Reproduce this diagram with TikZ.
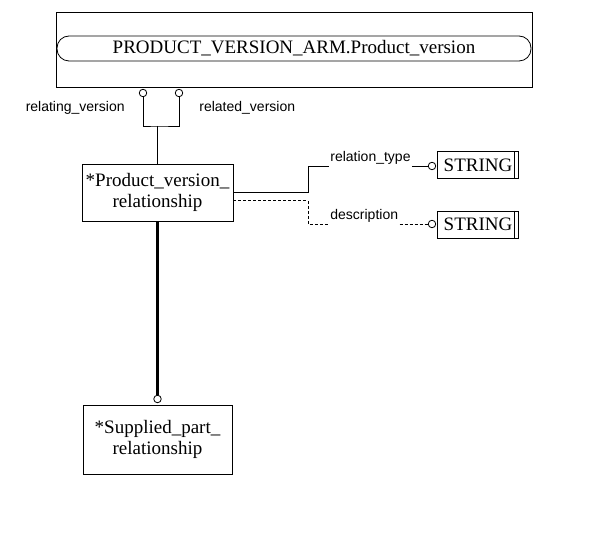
\documentclass[tikz,border=0pt]{standalone}
\usepackage{fontspec}
\setmainfont{Liberation Serif}
\newfontfamily\lblfont{Liberation Sans}
\begin{document}
\begin{tikzpicture}[x=1pt,y=-1pt,line width=0.8pt]
		\tikzset{
			ent/.style = {draw, inner sep=0pt, align=center, font=\fontsize{19}{21}\selectfont},
			lbl/.style = {inner sep=1pt, font=\lblfont\fontsize{14}{16}\selectfont},
			dot/.style = {draw, circle, fill=white, inner sep=0pt, minimum size=7.5},
			dsh/.style = {dash pattern=on 3pt off 2pt},
			strbox/.pic = {
					\node[ent, minimum width=81, minimum height=27] (-b) {STRING};
					\draw ([xshift=-5]-b.north east) -- ([xshift=-5]-b.south east);
				}}

		\useasboundingbox (0,0) rectangle (600,553);

		% schema box
		\node[draw, minimum width=476, minimum height=75, inner sep=0pt] (outer) at (294,49.5) {};
		\node[ent, rounded corners=12, minimum width=474, minimum height=25] (pv) at (294,48.5) {PRODUCT\_VERSION\_ARM.Product\_version};

		% entities
		\node[ent, minimum width=151, minimum height=57] (pvr) at (157.5,192.5) {*Product\_version\_\\relationship};
		\node[ent, minimum width=149, minimum height=69] (spr) at (157.5,439.5) {*Supplied\_part\_\\relationship};
		\pic (s1) at (478,165) {strbox};
		\pic (s2) at (478,224.5) {strbox};

		% attribute ends
		\node[dot] (c1) at (143,93) {};
		\node[dot] (c2) at (179,93) {};
		\node[dot] (c3) at (432,166) {};
		\node[dot] (c4) at (432,224) {};
		\node[dot] (c5) at (157.5,399) {};
		\coordinate (j) at (157.5,126);
		\coordinate (k1) at (308,166);
		\coordinate (k2) at (308,224);

		\node[lbl, anchor=east] (rv1) at (126,108) {relating\_version};
		\node[lbl, anchor=west] (rv2) at (198,108) {related\_version};
		\node[lbl, anchor=base west] (rt) at (329,162) {relation\_type};
		\node[lbl, anchor=base west] (ds) at (329,220) {description};

		\draw (c1.south) |- (j) -| (c2.south);
		\draw (j) -- (pvr.north);
		\draw (pvr.east) -| (k1) -- (k1 -| rt.west);
		\draw (rt.east |- c3) -- (c3);
		\draw[dsh] ([yshift=-8]pvr.east) -| (k2) -- (k2 -| ds.west);
		\draw[dsh] (ds.east |- c4) -- (c4);
		\draw[line width=2.6pt] (pvr.south) -- (c5.north);
	\end{tikzpicture}
\end{document}
